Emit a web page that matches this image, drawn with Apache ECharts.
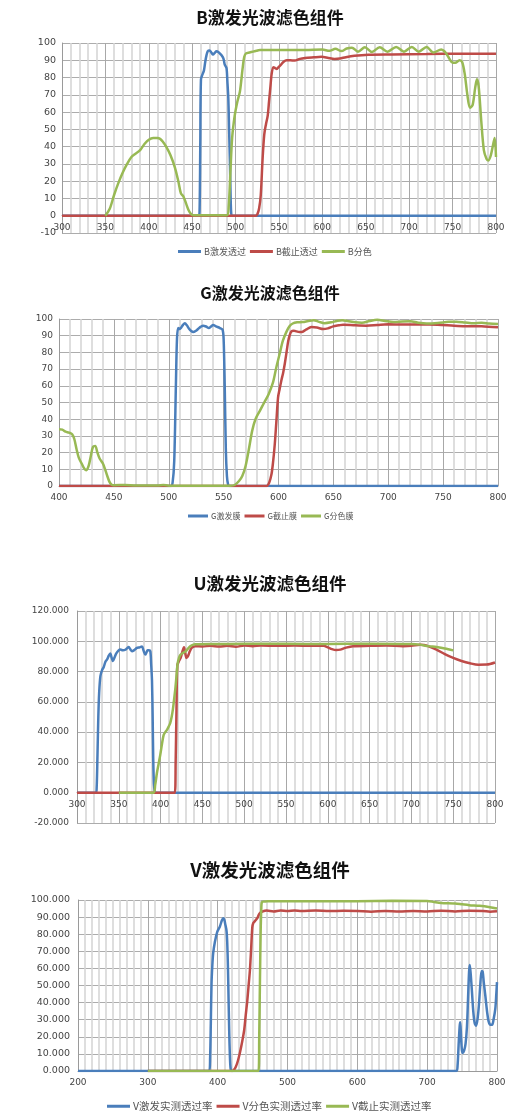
<!DOCTYPE html>
<html>
<head>
<meta charset="utf-8">
<script src="https://cdn.jsdelivr.net/npm/echarts@6/dist/echarts.min.js"></script>
<style>
html,body{margin:0;padding:0;background:#fff;}
#chart{width:525px;height:1115px;}
</style>
</head>
<body>
<div id="chart"></div>
<script>
// ---- Chart titles and legend names ----
const titles = ['B激发光波滤色组件', 'G激发光波滤色组件', 'U激发光波滤色组件', 'V激发光波滤色组件'];
const bNames = ['B激发透过', 'B截止透过', 'B分色'];
const gNames = ['G激发膜', 'G截止膜', 'G分色膜'];
const uNames = ['U激发透过', 'U截止透过', 'U分色'];
const vNames = ['V激发实测透过率', 'V分色实测透过率', 'V截止实测透过率'];

// ---- Axis ranges: [min, max, interval] ----
const bWave = [300, 800, 50], bTrans = [-10, 100, 10];
const gWave = [400, 800, 50], gTrans = [0, 100, 10];
const uWave = [300, 800, 50], uTrans = [-20, 120, 20];
const vWave = [200, 800, 100], vTrans = [0, 100, 10];

// ---- B filter set: [wavelength nm, transmittance %] ----
const bExcite = [[300,0],[457.5,0],[458.5,3],[459.3,40],[460.1,79],[462,82],[463.5,84],[465,89],[466.5,93],[468,95.3],[470,95.7],[472,94.5],[474,93.3],[476,94.3],[478,95.2],[480,94.8],[482,93.8],[484,92.8],[486,91],[487.5,87.5],[489.5,85.5],[490.5,78],[491.6,68],[492.5,50],[493.5,30],[494.3,10],[495,1],[496,0],[800,0]];
const bBlock = [[300,0],[523,0],[525,0.8],[527,4],[529,12],[531,32],[533,47],[535,53],[537,58],[538.5,66],[540,74],[541.5,82],[543.5,86],[545.5,85.5],[547.5,85],[549.5,86],[551.5,87],[555,89],[559,90],[563,90],[568,89.8],[574,90.8],[580,91.3],[590,91.7],[599,92],[607,91.3],[614,90.8],[620,91],[627,91.8],[637,92.6],[653,93.2],[680,93.4],[720,93.6],[760,93.8],[800,93.8]];
const bSplit = [[350,0],[355,4],[360,12],[365,19],[370,25],[375,30],[380,34],[385,36],[390,38],[395,41.5],[400,44],[405,45],[410,45],[413,44.5],[416,43],[420,40],[425,35],[430,28],[434,20],[437,13],[440,11],[443,7],[446,3],[449,0.8],[452,0.3],[490,0.3],[492,5],[494,25],[496,45],[499,58],[502,66],[505,72],[508,85],[510,92],[512,94],[516,94.5],[520,95],[524,95.5],[528,96],[540,96],[560,96],[580,96],[600,96.2],[608,95.5],[615,96.6],[622,95.3],[628,96.8],[634,97.3],[641,95],[649,97.5],[657,94.8],[666,97.5],[675,95],[685,97.7],[694,95],[703,97.7],[711,95],[720,97.7],[728,94.5],[737,96.3],[741,95],[745,92],[749,89],[753,88.5],[758,90],[761,89],[764,82],[767,70],[770,62.5],[773,64],[776,74],[778,79],[780,75],[783,55],[786,38],[789,33],[791,32],[794,35],[797,42],[798.5,45],[800,34]];

// ---- G filter set ----
const gExcite = [[400,0],[502,0],[503.5,2],[505,15],[506.5,60],[507.5,88],[508.6,94.6],[510,94],[511.5,95],[513,96.5],[514.7,97.4],[516.5,96.2],[518.5,94.2],[520.5,92.8],[522.3,92.2],[524.5,92.8],[527,94.2],[529,95.3],[531.4,96],[534,95.5],[536.6,94.6],[538.5,95.5],[540.5,96.4],[543,95.6],[546.6,94.6],[549,93.6],[550,88],[551,60],[552,22],[553,6],[554,1],[555,0],[800,0]];
const gBlock = [[400,0],[589,0],[591.5,2],[593.6,7],[595,14],[596.6,25],[598,38],[599.6,53],[601,58],[602.7,63.5],[604.3,68],[605.8,73.5],[607.3,80],[608.8,86.6],[610.3,90.5],[611.8,92.6],[614,93],[616.4,92.6],[619,92.2],[621,92.2],[625,93.6],[630,95.2],[635,94.9],[640.7,94],[645,94.4],[649.8,95.6],[655,96.2],[659,96.6],[670,96.2],[680,96],[690,96.4],[700,96.8],[715,96.7],[730,96.8],[745,96.6],[760,96],[770,95.7],[785,95.6],[800,95]];
const gSplit = [[400,34],[403,33.8],[406,32.5],[409,32],[412,31],[414,28],[416,22],[418,17],[421,13],[423,10.5],[425,9.5],[427,12],[429,18],[431,23.5],[433,24],[435,20],[437,16.5],[440,13.5],[442,10],[444,6],[446,2.5],[448,0.8],[450,0.5],[460,0.6],[470,0.3],[490,0.3],[495,0.6],[500,0.2],[556,0.2],[560,0.6],[564,3],[567,6],[570,12],[573,22],[576,33],[579,40],[583,45],[587,50],[591,55],[595,62],[598,71],[601,79],[604,87],[607,92],[610,95.6],[613,97.3],[617,98],[622,98.2],[627,98.8],[632,99.3],[637,98.3],[642,97.5],[648,98],[653,98.8],[658,99.3],[663,98.8],[670,98],[676,97.8],[683,98.8],[690,99.5],[697,98.8],[705,98.2],[713,98.5],[720,98.6],[727,97.8],[735,97.3],[745,97.6],[755,98.3],[762,98.4],[770,97.9],[778,97.4],[785,97.8],[792,97.3],[800,97]];

// ---- U filter set ----
const uExcite = [[300,0],[322.5,0],[323.5,3],[324.5,25],[325.5,50],[326.5,66],[328,77],[330,81],[332,83],[334,86.5],[336,88],[338,90.5],[339.8,92],[341.5,89],[343,87],[345,89.5],[347,92],[349.8,94],[352,94.5],[355,94],[357.8,94.4],[360,95.5],[361.8,96.2],[364,94.5],[365.8,93.4],[368,94],[371.7,95.6],[375,96],[377.7,96.6],[379.5,94],[381.7,91.2],[383,92.5],[384.5,94],[386,94],[387.7,93.4],[388.7,85],[389.7,74],[390.5,50],[391.2,22],[392,6],[393,1],[394,0],[800,0]];
const uBlock = [[300,0],[417,0],[418,20],[419,55],[420,84],[422,87],[424,89],[426,93],[428,96],[429.5,92],[431,89],[433,90.5],[435,93.5],[437.5,95.8],[441.6,96.8],[450,96.6],[460,97],[470,96.5],[480,97],[490,96.4],[500,97.2],[510,96.8],[520,97.2],[540,97],[560,97.2],[580,97],[595,97],[600,96],[605,94.8],[610,94.2],[615,94.5],[620,95.5],[630,96.8],[650,97],[670,97.2],[690,96.8],[700,97],[710,97.7],[715,97.5],[720,96.8],[730,94.5],[740,91.5],[750,89],[760,87],[770,85.5],[780,84.5],[790,84.6],[800,86]];
const uSplit = [[350,0],[391.5,0],[393.5,5],[395.6,13],[397.6,19],[399.6,25],[401.6,32],[403.6,38],[405.6,40],[407.6,41.5],[409.5,43.5],[411.5,46],[413.2,50],[414.7,55],[416,61],[417.5,68],[419,77],[420.3,85],[422,89],[423.5,91],[426.5,92.2],[429.5,93.2],[432.5,95],[435.5,96.7],[438.5,97.6],[441.4,98],[460,98.2],[500,98.3],[550,98.3],[600,98.2],[650,98.4],[700,98.2],[710,97.8],[720,96.8],[730,96.2],[740,95.3],[750,94]];

// ---- V filter set ----
const vExcite = [[200,0],[388,0],[389.2,8],[390.2,28],[391.2,51],[392.4,62],[393.6,69],[396,75.5],[399.4,81.4],[403.2,84.5],[406,88],[408,89.3],[409.5,88.5],[410.8,86],[412.7,82],[413.7,75],[414.7,61],[415.7,40],[416.6,22],[417.5,9],[418.5,1.5],[420,0],[742,0],[743.5,3],[745,15],[746.5,26],[747.4,28.5],[748.5,20],[749.8,12],[751,10.5],[753,12],[755,16],[757,26],[758.5,42],[760,58],[761,62],[762.5,56],[764.2,46],[766,35],[768,28],[770,26.5],[772,30],[774,38],[776,50],[778,58.5],[779.5,58],[781,52],[783.3,44],[786,34],[788,29],[790.5,27],[793,27],[795,30],[797.6,36.5],[799,45],[800,52]];
const vSplit = [[300,0],[421,0],[423,0.5],[426,2.5],[429,6],[432,11],[435,17],[438,24],[440,32],[442.4,41],[444.5,51],[446.2,59],[448,72],[449.6,84],[451,86.5],[453,87.5],[455,88.5],[457,89.5],[459,91.5],[461,92.5],[465,93.4],[470,93.8],[480,93.3],[490,93.9],[500,93.5],[510,93.9],[520,93.6],[540,93.8],[560,93.5],[580,93.7],[600,93.6],[620,93.2],[640,93.5],[660,93.3],[680,93.6],[700,93.3],[720,93.7],[740,93.3],[760,93.7],[780,93.6],[790,93.2],[800,93.4]];
const vBlock = [[300,0],[458.5,0],[459.5,20],[460.5,51],[461.5,80],[462.5,95],[463.5,98.8],[470,99.2],[500,99.3],[550,99.2],[600,99.3],[650,99.5],[700,99.4],[710,98.8],[720,98.3],[740,98],[750,97.5],[760,97],[775,96.6],[790,95.8],[800,95]];

const BLUE = '#4a7ebb', RED = '#be4b48', GREEN = '#98b954';
const LABEL_FONT = 'DejaVu Sans, sans-serif';
const CJK_FONT = '"Noto Sans CJK SC", sans-serif';

// panel layout: plot rectangles, title centres, fonts
const panels = [
  {grid: {left: 62, top: 43, width: 434, height: 190}, wave: bWave, trans: bTrans, minor: 5, titleY: 20, titleSize: 17, yFont: 9.5, decimals: 0},
  {grid: {left: 59, top: 319, width: 439, height: 167}, wave: gWave, trans: gTrans, minor: 5, titleY: 295, titleSize: 16, yFont: 9, decimals: 0},
  {grid: {left: 77, top: 611, width: 418, height: 212}, wave: uWave, trans: uTrans, minor: 5, titleY: 586, titleSize: 17.5, yFont: 9, decimals: 3},
  {grid: {left: 78, top: 900, width: 419, height: 171}, wave: vWave, trans: vTrans, minor: 10, titleY: 873, titleSize: 18.5, yFont: 9.5, decimals: 3}
];

// the wavelength axis sits on the 0 % line: lift it from the grid's bottom edge
function zeroOffset(p) {
  const [lo, hi] = p.trans;
  return lo < 0 ? -p.grid.height * (0 - lo) / (hi - lo) : 0;
}

const option = {
  animation: false,
  backgroundColor: '#ffffff',
  title: panels.map((p, i) => ({
    text: titles[i],
    left: 270,
    top: p.titleY - p.titleSize * 0.65,
    textAlign: 'center',
    padding: 0,
    textStyle: {fontFamily: CJK_FONT, fontWeight: 'bold', fontSize: p.titleSize, color: '#111'}
  })),
  grid: panels.map(p => Object.assign({containLabel: false}, p.grid)),
  xAxis: panels.map((p, i) => ({
    type: 'value', gridIndex: i, position: 'bottom', offset: zeroOffset(p),
    min: p.wave[0], max: p.wave[1], interval: p.wave[2],
    axisLine: {show: true, onZero: false, lineStyle: {color: '#9a9a9a', width: 1}},
    axisTick: {show: false},
    minorTick: {show: false, splitNumber: p.minor},
    axisLabel: {fontFamily: LABEL_FONT, fontSize: 9, color: '#444', margin: 7},
    splitLine: {show: true, lineStyle: {color: '#a8a8a8', width: 1}},
    minorSplitLine: {show: true, lineStyle: {color: '#d6d6d6', width: 1.6}}
  })),
  yAxis: panels.map((p, i) => ({
    type: 'value', gridIndex: i,
    min: p.trans[0], max: p.trans[1], interval: p.trans[2],
    axisLine: {show: true, onZero: false, lineStyle: {color: '#9a9a9a', width: 1}},
    axisTick: {show: false},
    axisLabel: {
      fontFamily: LABEL_FONT, fontSize: p.yFont, color: '#444', margin: i < 2 ? 6 : 8,
      formatter: v => v.toFixed(p.decimals)
    },
    splitLine: {show: true, lineStyle: {color: '#acacac', width: 1}}
  })),
  legend: [
    {data: bNames, left: 178, top: 247, itemWidth: 23, fontSize: 9},
    {data: gNames, left: 188, top: 512, itemWidth: 20, fontSize: 8},
    {data: vNames, left: 107, top: 1101, itemWidth: 23, fontSize: 10.5}
  ].map(l => ({
    data: l.data, left: l.left, top: l.top,
    icon: 'rect', itemWidth: l.itemWidth, itemHeight: 3, itemGap: 4, padding: 0,
    textStyle: {fontFamily: CJK_FONT, fontSize: l.fontSize, color: '#555', padding: [0, 0, 0, -2]}
  })),
  series: []
};

const sets = [
  [bExcite, bBlock, bSplit, bNames],
  [gExcite, gBlock, gSplit, gNames],
  [uExcite, uBlock, uSplit, uNames],
  [vExcite, vSplit, vBlock, vNames]
];
sets.forEach((s, i) => {
  const colors = [BLUE, RED, GREEN];
  for (let k = 0; k < 3; k++) {
    option.series.push({
      type: 'line', name: s[3][k], xAxisIndex: i, yAxisIndex: i,
      data: s[k], showSymbol: false, smooth: 0.3,
      lineStyle: {color: colors[k], width: 2.5},
      itemStyle: {color: colors[k]},
      z: 3 + k
    });
  }
});

const chart = echarts.init(document.getElementById('chart'), null, {renderer: 'canvas'});
chart.setOption(option);
</script>
</body>
</html>
